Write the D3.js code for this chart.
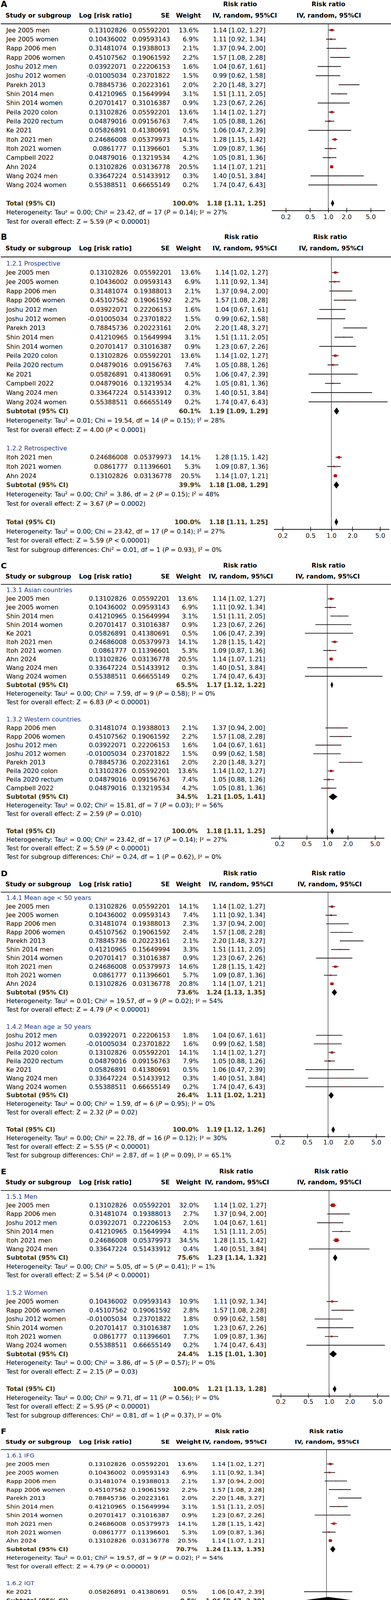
<!DOCTYPE html>
<html>
<head>
<meta charset="utf-8">
<script src="https://cdn.jsdelivr.net/npm/d3@7"></script>
<style>
  body { margin: 0; background: #fff; }
  svg { display: block; }
  text { font-family: "DejaVu Sans", Verdana, sans-serif; }
</style>
</head>
<body>
<div id="chart-area"></div>
<script>
// ---- study level data (same 18 estimates reused in every panel) ----
const studyNames = ["Jee 2005 men", "Jee 2005 women", "Rapp 2006 men", "Rapp 2006 women",
  "Joshu 2012 men", "Joshu 2012 women", "Parekh 2013", "Shin 2014 men", "Shin 2014 women",
  "Peila 2020 colon", "Peila 2020 rectum", "Ke 2021", "Itoh 2021 men", "Itoh 2021 women",
  "Campbell 2022", "Ahn 2024", "Wang 2024 men", "Wang 2024 women"]
const logRR = [0.13102826, 0.10436002, 0.31481074, 0.45107562, 0.03922071, -0.01005034,
  0.78845736, 0.41210965, 0.20701417, 0.13102826, 0.04879016, 0.05826891, 0.24686008,
  0.0861777, 0.04879016, 0.13102826, 0.33647224, 0.55388511]
const seVal = [0.05592201, 0.09593143, 0.19388013, 0.19061592, 0.22206153, 0.23701822,
  0.20223161, 0.15649994, 0.31016387, 0.05592201, 0.09156763, 0.41380691, 0.05379973,
  0.11396601, 0.13219534, 0.03136778, 0.51433912, 0.66655149]
const rrEst = [1.14, 1.11, 1.37, 1.57, 1.04, 0.99, 2.20, 1.51, 1.23, 1.14, 1.05, 1.06, 1.28, 1.09, 1.05, 1.14, 1.40, 1.74]
const rrLow = [1.02, 0.92, 0.94, 1.08, 0.67, 0.62, 1.48, 1.11, 0.67, 1.02, 0.88, 0.47, 1.15, 0.87, 0.81, 1.07, 0.51, 0.47]
const rrHigh = [1.27, 1.34, 2.00, 2.28, 1.61, 1.58, 3.27, 2.05, 2.26, 1.27, 1.26, 2.39, 1.42, 1.36, 1.36, 1.21, 3.84, 6.43]

const axisTicks = [0.2, 0.5, 1, 2, 5]

// overall result shared by most panels
const allTotal = [1.18, 1.11, 1.25]
const allHet = "Tau² = 0.00; Chi² = 23.42, df = 17 (P = 0.14); I² = 27%"
const allZ = "Z = 5.59 (P < 0.00001)"

// ---- A: all studies ----
const aIdx = [[0, 1, 2, 3, 4, 5, 6, 7, 8, 9, 10, 11, 12, 13, 14, 15, 16, 17]]
const aW = [[13.6, 6.9, 2.1, 2.2, 1.6, 1.5, 2.0, 3.1, 0.9, 13.6, 7.4, 0.5, 14.1, 5.3, 4.2, 20.5, 0.3, 0.2]]

// ---- B: design ----
const bNames = ["1.2.1 Prospective", "1.2.2 Retrospective"]
const bIdx = [[0, 1, 2, 3, 4, 5, 6, 7, 8, 9, 10, 11, 14, 16, 17], [12, 13, 15]]
const bW = [[13.6, 6.9, 2.1, 2.2, 1.6, 1.5, 2.0, 3.1, 0.9, 13.6, 7.4, 0.5, 4.2, 0.3, 0.2], [14.1, 5.3, 20.5]]
const bSub = [["60.1%", 1.19, 1.09, 1.29], ["39.9%", 1.18, 1.08, 1.29]]
const bHet = ["Tau² = 0.01; Chi   = 19.54, df = 14 (P = 0.15); I² = 28%",
  "Tau² = 0.00; Chi² = 3.86, df = 2 (P = 0.15); I² = 48%"]
const bZ = ["Z = 4.00 (P < 0.0001)", "Z = 3.67 (P = 0.0002)"]
const bTotHet = "Tau² = 0.00; Chi   = 23.42, df = 17 (P = 0.14); I² = 27%"
const bDiff = "Chi² = 0.01, df = 1 (P = 0.93), I² = 0%"

// ---- C: region ----
const cNames = ["1.3.1 Asian countries", "1.3.2 Western countries"]
const cIdx = [[0, 1, 7, 8, 11, 12, 13, 15, 16, 17], [2, 3, 4, 5, 6, 9, 10, 14]]
const cW = [[13.6, 6.9, 3.1, 0.9, 0.5, 14.1, 5.3, 20.5, 0.3, 0.2], [2.1, 2.2, 1.6, 1.5, 2.0, 13.6, 7.4, 4.2]]
const cSub = [["65.5%", 1.17, 1.12, 1.22], ["34.5%", 1.21, 1.05, 1.41]]
const cHet = ["Tau² = 0.00; Chi² = 7.59, df = 9 (P = 0.58); I² = 0%",
  "Tau² = 0.02; Chi² = 15.81, df = 7 (P = 0.03); I² = 56%"]
const cZ = ["Z = 6.83 (P < 0.00001)", "Z = 2.59 (P = 0.010)"]
const cDiff = "Chi² = 0.24, df = 1 (P = 0.62), I² = 0%"

// ---- D: age ----
const dNames = ["1.4.1 Mean age < 50 years", "1.4.2 Mean age ≥ 50 years"]
const dIdx = [[0, 1, 2, 3, 6, 7, 8, 12, 13, 15], [4, 5, 9, 10, 11, 16, 17]]
const dW = [[14.1, 7.4, 2.3, 2.4, 2.1, 3.3, 0.9, 14.6, 5.7, 20.8], [1.8, 1.6, 14.1, 7.9, 0.5, 0.3, 0.2]]
const dSub = [["73.6%", 1.24, 1.13, 1.35], ["26.4%", 1.11, 1.02, 1.21]]
const dHet = ["Tau² = 0.01; Chi² = 19.57, df = 9 (P = 0.02); I² = 54%",
  "Tau² = 0.00; Chi² = 1.59, df = 6 (P = 0.95); I² = 0%"]
const dZ = ["Z = 4.79 (P < 0.00001)", "Z = 2.32 (P = 0.02)"]
const dTotal = [1.19, 1.12, 1.26]
const dTotHet = "Tau² = 0.00; Chi² = 22.78, df = 16 (P = 0.12); I² = 30%"
const dTotZ = "Z = 5.55 (P < 0.00001)"
const dDiff = "Chi² = 2.87, df = 1 (P = 0.09), I² = 65.1%"

// ---- E: sex ----
const eNames = ["1.5.1 Men", "1.5.2 Women"]
const eIdx = [[0, 2, 4, 7, 12, 16], [1, 3, 5, 8, 13, 17]]
const eW = [[32.0, 2.7, 2.0, 4.1, 34.5, 0.4], [10.9, 2.8, 1.8, 1.0, 7.7, 0.2]]
const eSub = [["75.6%", 1.23, 1.14, 1.32], ["24.4%", 1.15, 1.01, 1.30]]
const eHet = ["Tau² = 0.00; Chi² = 5.05, df = 5 (P = 0.41); I² = 1%",
  "Tau² = 0.00; Chi² = 3.86, df = 5 (P = 0.57); I² = 0%"]
const eZ = ["Z = 5.54 (P < 0.00001)", "Z = 2.15 (P = 0.03)"]
const eTotal = [1.21, 1.13, 1.28]
const eTotHet = "Tau² = 0.00; Chi² = 9.71, df = 11 (P = 0.56); I² = 0%"
const eTotZ = "Z = 5.95 (P < 0.00001)"
const eDiff = "Chi² = 0.81, df = 1 (P = 0.37), I² = 0%"

// ---- F: prediabetes definition ----
const fNames = ["1.6.1 IFG", "1.6.2 IGT", "1.6.3 HbA1c 5.7-6.5%"]
const fIdx = [[0, 1, 2, 3, 6, 7, 8, 12, 13, 15], [11], [4, 5, 9, 10, 14, 16, 17]]
const fW = [[13.6, 6.9, 2.1, 2.2, 2.0, 3.1, 0.9, 14.1, 5.3, 20.5], [0.5], [1.6, 1.5, 13.6, 7.4, 4.2, 0.3, 0.2]]
const fSub = [["70.7%", 1.24, 1.13, 1.35], ["0.5%", 1.06, 0.47, 2.39], ["28.8%", 1.10, 1.02, 1.20]]
const fHet = ["Tau² = 0.01; Chi² = 19.57, df = 9 (P = 0.02); I² = 54%", "Not applicable",
  "Tau² = 0.00; Chi² = 1.74, df = 6 (P = 0.94); I² = 0%"]
const fZ = ["Z = 4.79 (P < 0.00001)", "Z = 0.14 (P = 0.89)", "Z = 2.31 (P = 0.02)"]
const fDiff = "Chi² = 3.38, df = 2 (P = 0.18), I² = 40.9%"

// ---- G: follow-up ----
const gNames = ["1.7.1 Follow-up duration < 8 years", "1.7.2 Follow-up duration ≥ 8 years"]
const gIdx = [[7, 8, 9, 10, 11, 12, 13, 15], [0, 1, 2, 3, 4, 5, 6, 14, 16, 17]]
const gW = [[3.1, 0.9, 13.6, 7.4, 0.5, 14.1, 5.3, 20.5], [13.6, 6.9, 2.1, 2.2, 1.6, 1.5, 2.0, 4.2, 0.3, 0.2]]
const gSub = [["65.4%", 1.17, 1.10, 1.23], ["34.6%", 1.23, 1.07, 1.40]]
const gHet = ["Tau² = 0.00; Chi² = 8.14, df = 7 (P = 0.32); I² = 14%",
  "Tau² = 0.02; Chi² = 15.21, df = 9 (P = 0.09); I² = 41%"]
const gZ = ["Z = 5.52 (P < 0.00001)", "Z = 3.02 (P = 0.002)"]
const gDiff = "Chi² = 0.47, df = 1 (P = 0.49), I² = 0%"

// ---- H: adjustment ----
const hNames = ["1.8.1 BMI or WC adjusted", "1.8.2 No BMI or WC adjusted"]
const hIdx = [[2, 3, 4, 5, 6, 7, 8, 12, 13, 14, 15, 16, 17], [0, 1, 9, 10, 11]]
const hW = [[2.1, 2.2, 1.6, 1.5, 2.0, 3.1, 0.9, 14.1, 5.3, 4.2, 20.5, 0.3, 0.2], [13.6, 6.9, 13.6, 7.4, 0.5]]
const hSub = [["58.0%", 1.24, 1.13, 1.37], ["42.0%", 1.12, 1.05, 1.20]]
const hHet = ["Tau² = 0.01; Chi² = 20.80, df = 12 (P = 0.05); I² = 42%",
  "Tau² = 0.00; Chi² = 0.72, df = 4 (P = 0.95); I² = 0%"]
const hZ = ["Z = 4.42 (P < 0.0001)", "Z = 3.43 (P = 0.0006)"]
const hDiff = "Chi² = 2.94, df = 1 (P = 0.09), I² = 65.9%"

// ---- panels built from the arrays above ----
function mkGroups(names, idx, w, sub, het, z) {
  return idx.map((ix, i) => ({
    name: names ? names[i] : null, idx: ix, w: w[i],
    sub: sub ? sub[i] : null, het: het ? het[i] : null, z: z ? z[i] : null
  }))
}
const panels = [
  { letter: "A", groups: mkGroups(null, aIdx, aW), total: allTotal, het: allHet, z: allZ, diff: null },
  { letter: "B", groups: mkGroups(bNames, bIdx, bW, bSub, bHet, bZ), total: allTotal, het: bTotHet, z: allZ, diff: bDiff },
  { letter: "C", groups: mkGroups(cNames, cIdx, cW, cSub, cHet, cZ), total: allTotal, het: allHet, z: allZ, diff: cDiff },
  { letter: "D", groups: mkGroups(dNames, dIdx, dW, dSub, dHet, dZ), total: dTotal, het: dTotHet, z: dTotZ, diff: dDiff },
  { letter: "E", groups: mkGroups(eNames, eIdx, eW, eSub, eHet, eZ), total: eTotal, het: eTotHet, z: eTotZ, diff: eDiff },
  { letter: "F", groups: mkGroups(fNames, fIdx, fW, fSub, fHet, fZ), total: allTotal, het: allHet, z: allZ, diff: fDiff },
  { letter: "G", groups: mkGroups(gNames, gIdx, gW, gSub, gHet, gZ), total: allTotal, het: allHet, z: allZ, diff: gDiff },
  { letter: "H", groups: mkGroups(hNames, hIdx, hW, hSub, hHet, hZ), total: allTotal, het: allHet, z: allZ, diff: hDiff }
]

// layout of each pasted panel (they were pasted at slightly different scales)
const layouts = [
  { row0: 77,   step: 23.33, t02: 731, t5: 948, ax0: 695, ax1: 985, logR: 324, seR: 435, wR: 508, rrR: 679, rrH: 614, ivH: 626, rrH2: 840, ivH2: 841 },
  { row0: 674,  step: 23.65, t02: 723, t5: 972, ax0: 701, ax1: 996, logR: 327, seR: 439, wR: 513, rrR: 685, rrH: 617, ivH: 626, rrH2: 844, ivH2: 847 },
  { row0: 1511, step: 22.03, t02: 715, t5: 959, ax0: 693, ax1: 983, logR: 324, seR: 434, wR: 506, rrR: 678, rrH: 614, ivH: 616, rrH2: 840, ivH2: 838 },
  { row0: 2299, step: 21.96, t02: 716, t5: 962, ax0: 693, ax1: 985, logR: 324, seR: 435, wR: 508, rrR: 678, rrH: 614, ivH: 616, rrH2: 840, ivH2: 843 },
  { row0: 3063, step: 22.4,  t02: 718, t5: 965, ax0: 696, ax1: 996, logR: 325, seR: 437, wR: 509, rrR: 681, rrH: 604, ivH: 606, rrH2: 847, ivH2: 842 },
  { row0: 3726, step: 21.8,  t02: 713, t5: 957, ax0: 691, ax1: 981, logR: 323, seR: 433, wR: 505, rrR: 676, rrH: 593, ivH: 600, rrH2: 834, ivH2: 836 },
  { row0: 4607, step: 20.94, t02: 716, t5: 961, ax0: 693, ax1: 983, logR: 322, seR: 434, wR: 506, rrR: 678, rrH: 593, ivH: 600, rrH2: 838, ivH2: 840 },
  { row0: 5349, step: 19.39, t02: 714, t5: 959, ax0: 693, ax1: 983, logR: 322, seR: 434, wR: 506, rrR: 677, rrH: 591, ivH: 600, rrH2: 837, ivH2: 838 }
]

const D = 23.33      // design row height, every panel is squeezed from this
const FS = 16
const HEAD_COL = "#23408c"
const TOT_COL = "#3f3208"
const SQ_COL = "#c00000"

const svg = d3.select("#chart-area").append("svg")
  .attr("width", 1000)
  .attr("height", 5959)
svg.append("rect").attr("width", 1000).attr("height", 5959).attr("fill", "#fff")

const fmt2 = d3.format(".2f")
const ciText = (r, lo, hi) => `${fmt2(r)} [${fmt2(lo)}, ${fmt2(hi)}]`

// text with italic P
function rich(sel, str) {
  str.split(/(\bP\b)/).forEach(part => {
    sel.append("tspan").text(part).attr("font-style", part === "P" ? "italic" : null)
  })
}

function buildRows(p) {
  let rows = []
  p.groups.forEach(gr => {
    if (gr.name) rows.push({ type: "head", text: gr.name })
    gr.idx.forEach((k, j) => rows.push({ type: "study", k: k, w: gr.w[j] }))
    if (gr.sub) {
      rows.push({ type: "sum", label: "Subtotal (95% CI)", wt: gr.sub[0], r: gr.sub[1], lo: gr.sub[2], hi: gr.sub[3] })
      rows.push({ type: "text", text: "Heterogeneity: " + gr.het })
      rows.push({ type: "text", text: "Test for overall effect: " + gr.z })
    }
    rows.push({ type: "blank" })
  })
  rows.push({ type: "sum", label: "Total (95% CI)", wt: "100.0%", r: p.total[0], lo: p.total[1], hi: p.total[2], total: true })
  rows.push({ type: "text", text: "Heterogeneity: " + p.het })
  rows.push({ type: "text", text: "Test for overall effect: " + p.z })
  if (p.diff) rows.push({ type: "text", text: "Test for subgroup differences: " + p.diff })
  rows.forEach((r, i) => r.y = i * D)
  return rows
}

panels.forEach((p, pi) => {
  const lay = layouts[pi]
  const s = lay.step / D
  const g = svg.append("g")
    .attr("transform", `translate(0,${lay.row0}) scale(1,${s})`)
    .attr("font-size", FS)

  const x = d3.scaleLog().domain([0.2, 5]).range([lay.t02, lay.t5])
  const rows = buildRows(p)
  const totalRow = rows.find(r => r.total)
  const axisY = totalRow.y + 0.81 * D

  // ---- header ----
  const yRR = -2.87 * D, yCol = -1.63 * D, yLine = -0.686 * D
  g.append("text").attr("x", 2).attr("y", yRR).attr("dy", ".36em")
    .attr("font-weight", "bold").attr("font-size", 21).text(p.letter)
  const hdr = [
    [lay.rrH, yRR, "middle", "Risk ratio"], [lay.rrH2, yRR, "middle", "Risk ratio"],
    [14, yCol, "start", "Study or subgroup"], [202, yCol, "start", "Log [risk ratio]"],
    [434, yCol, "end", "SE"], [450, yCol, "start", "Weight"],
    [lay.ivH, yCol, "middle", "IV, random, 95%CI"], [lay.ivH2, yCol, "middle", "IV, random, 95%CI"]
  ]
  g.selectAll(".hdr").data(hdr).enter().append("text")
    .attr("x", d => d[0]).attr("y", d => d[1]).attr("dy", ".36em")
    .attr("text-anchor", d => d[2]).attr("font-weight", "bold")
    .text(d => d[3])
  g.append("line").attr("x1", 2).attr("x2", 1000).attr("y1", yLine).attr("y2", yLine)
    .attr("stroke", "#111").attr("stroke-width", 1.8)

  // null line
  g.append("line").attr("x1", x(1)).attr("x2", x(1)).attr("y1", yLine).attr("y2", axisY)
    .attr("stroke", "#111").attr("stroke-width", 1.1)

  // ---- rows ----
  rows.forEach(r => {
    if (r.type === "head") {
      g.append("text").attr("x", 16).attr("y", r.y).attr("dy", ".36em")
        .attr("fill", HEAD_COL).text(r.text)
    } else if (r.type === "text") {
      rich(g.append("text").attr("x", 16).attr("y", r.y).attr("dy", ".36em"), r.text)
    } else if (r.type === "study") {
      const k = r.k
      const cells = [
        [16, "start", studyNames[k]], [lay.logR, "end", String(logRR[k])],
        [lay.seR, "end", String(seVal[k])], [lay.wR, "end", r.w.toFixed(1) + "%"],
        [lay.rrR, "end", ciText(rrEst[k], rrLow[k], rrHigh[k])]
      ]
      cells.forEach(c => g.append("text").attr("x", c[0]).attr("y", r.y).attr("dy", ".36em")
        .attr("text-anchor", c[1]).text(c[2]))
      g.append("line")
        .attr("x1", x(rrLow[k])).attr("x2", x(rrHigh[k]))
        .attr("y1", r.y).attr("y2", r.y)
        .attr("stroke", "#1a1a1a").attr("stroke-width", 2)
      const side = Math.max(2.2, 1.65 * Math.sqrt(r.w))
      g.append("rect")
        .attr("x", x(rrEst[k]) - side / 2).attr("y", r.y - side / 2)
        .attr("width", side).attr("height", side)
        .attr("fill", SQ_COL)
    } else if (r.type === "sum") {
      g.append("text").attr("x", 16).attr("y", r.y).attr("dy", ".36em")
        .attr("font-weight", "bold").attr("fill", TOT_COL).text(r.label)
      g.append("text").attr("x", lay.wR).attr("y", r.y).attr("dy", ".36em")
        .attr("text-anchor", "end").attr("font-weight", "bold").attr("fill", TOT_COL).text(r.wt)
      g.append("text").attr("x", lay.rrR).attr("y", r.y).attr("dy", ".36em")
        .attr("text-anchor", "end").attr("font-weight", "bold").attr("fill", TOT_COL)
        .text(ciText(r.r, r.lo, r.hi))
      const hh = 9
      g.append("path")
        .attr("d", `M${x(r.lo)},${r.y} L${x(r.r)},${r.y - hh} L${x(r.hi)},${r.y} L${x(r.r)},${r.y + hh} Z`)
        .attr("fill", "#000")
    }
  })

  // ---- axis ----
  const axis = g.append("g").attr("transform", `translate(0,${axisY})`)
    .call(d3.axisBottom(x).tickValues(axisTicks).tickFormat(d3.format(".1f")).tickSizeOuter(0))
  axis.select(".domain").remove()
  axis.selectAll(".tick line").attr("y1", -7).attr("y2", 5).attr("stroke", "#111").attr("stroke-width", 1.6)
  axis.selectAll(".tick text").attr("y", 10).attr("font-size", FS)
    .attr("font-family", "DejaVu Sans, Verdana, sans-serif").attr("fill", "#111")
  axis.append("line").attr("x1", lay.ax0).attr("x2", lay.ax1)
    .attr("stroke", "#111").attr("stroke-width", 2)
})
</script>
</body>
</html>
